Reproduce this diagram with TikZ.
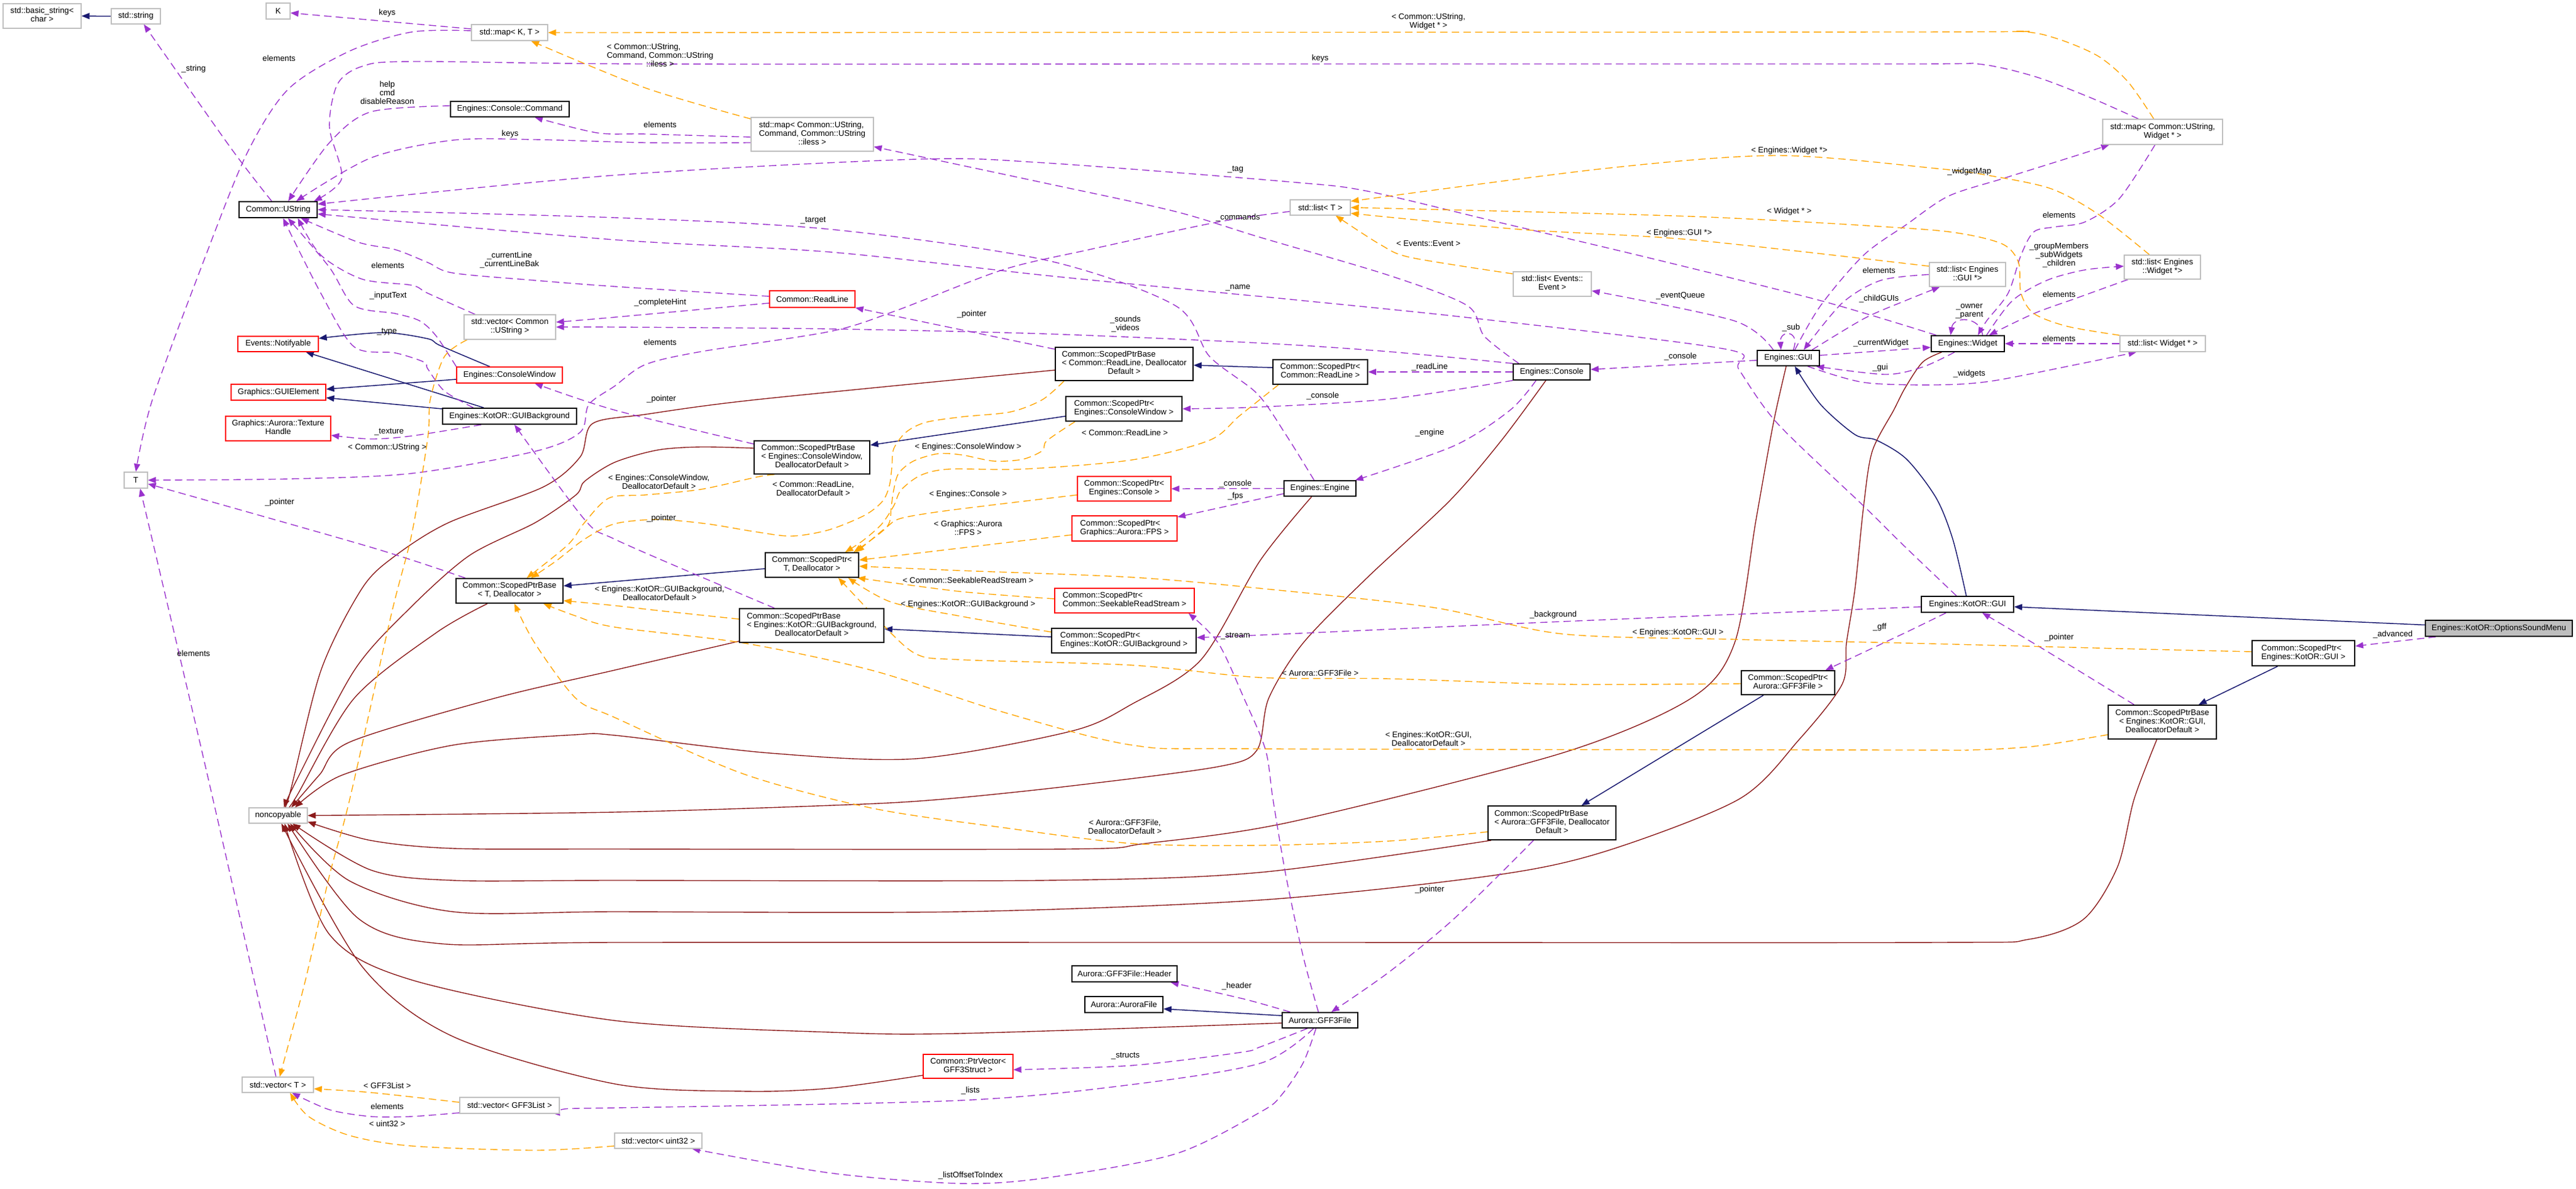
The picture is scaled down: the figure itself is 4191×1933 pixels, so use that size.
\documentclass[tikz,border=0pt]{standalone}
\usepackage{fontspec}
\setmainfont{Liberation Sans}
\usetikzlibrary{arrows.meta}
\pgfdeclarelayer{bg}
\pgfsetlayers{bg,main}
\definecolor{cuse}{HTML}{9A32CD}
\definecolor{ctpl}{HTML}{FFA500}
\definecolor{cpriv}{HTML}{8B1A1A}
\definecolor{cinh}{HTML}{191970}
\definecolor{cgray}{HTML}{BFBFBF}
\newcommand{\dxtwo}[2]{\begin{tabular}{@{}l@{}}#1\\\multicolumn{1}{@{}c@{}}{#2}\end{tabular}}
\newcommand{\dxthree}[3]{\begin{tabular}{@{}l@{}}#1\\\multicolumn{1}{@{}c@{}}{#2}\\\multicolumn{1}{@{}c@{}}{#3}\end{tabular}}
\newcommand{\dxc}[2]{\begin{tabular}{@{}c@{}}#1\\#2\end{tabular}}
\newcommand{\dxcc}[3]{\begin{tabular}{@{}c@{}}#1\\#2\\#3\end{tabular}}
\begin{document}
\begin{tikzpicture}[x=1pt,y=-1pt,
 every node/.style={font=\fontsize{13.2}{14}\selectfont},
 box/.style={rectangle, inner sep=0pt, fill=white, line width=1.3pt},
 bk/.style={box, draw=black, line width=1.7pt},
 gy/.style={box, draw=cgray},
 rd/.style={box, draw=red},
 sz/.style 2 args={minimum width=#1pt, minimum height=#2pt},
 tipa/.style={-{Triangle[length=13pt,width=10pt]}},
 inh/.style={draw=cinh, line width=1.5pt, tipa},
 prv/.style={draw=cpriv, line width=1.4pt, tipa},
 use/.style={draw=cuse, line width=1.4pt, dash pattern=on 12pt off 7pt, tipa},
 tpl/.style={draw=ctpl, line width=1.4pt, dash pattern=on 12pt off 7pt, tipa},
 lb/.style={inner sep=0pt}]
\useasboundingbox (0,0) rectangle (4191,1933);
% ---------------- nodes
\node[gy,sz={127}{40}] (bstr) at (68.5,26) {\dxtwo{std::basic\_string<}{char >}};
\node[gy,sz={80}{25}] (sstr) at (221,26.5) {std::string};
\node[gy,sz={39}{26}] (K) at (452.5,18) {K};
\node[gy,sz={124}{26}] (mapKT) at (829,53) {std::map< K, T >};
\node[bk,sz={193}{25}] (cmd) at (829.5,177.5) {Engines::Console::Command};
\node[bk,sz={127}{26}] (ustr) at (452.5,341) {Common::UString};
\node[gy,sz={149}{40}] (vecustr) at (829.5,532) {\dxtwo{std::vector< Common}{::UString >}};
\node[rd,sz={131}{25}] (notif) at (452.5,559.5) {Events::Notifyable};
\node[rd,sz={172}{26}] (conwin) at (829,610) {Engines::ConsoleWindow};
\node[rd,sz={154}{26}] (guiel) at (453,638) {Graphics::GUIElement};
\node[bk,sz={218}{26}] (guibg) at (829,677) {Engines::KotOR::GUIBackground};
\node[rd,sz={171}{40}] (texh) at (452.5,697) {\dxtwo{Graphics::Aurora::Texture}{Handle}};
\node[gy,sz={38}{26}] (T) at (221,781) {T};
\node[bk,sz={174}{40}] (spbT) at (829,961) {\dxtwo{Common::ScopedPtrBase}{< T, Deallocator >}};
\node[gy,sz={95}{25}] (noncopy) at (452.5,1326.5) {noncopyable};
\node[gy,sz={116}{25}] (vecT) at (452,1764.5) {std::vector< T >};
\node[gy,sz={162}{26}] (vecGL) at (829,1798) {std::vector< GFF3List >};
\node[gy,sz={142}{25}] (vecU32) at (1071,1855.5) {std::vector< uint32 >};
\node[gy,sz={199}{55}] (mapcmd) at (1321.5,218.5) {\dxthree{std::map< Common::UString,}{Command, Common::UString}{::iless >}};
\node[rd,sz={139}{27}] (readline) at (1321.5,486.5) {Common::ReadLine};
\node[bk,sz={224}{54}] (spbRL) at (1829,592) {\dxthree{Common::ScopedPtrBase}{< Common::ReadLine, Deallocator}{Default >}};
\node[bk,sz={189}{40}] (spCW) at (1828.5,665) {\dxtwo{Common::ScopedPtr<}{Engines::ConsoleWindow >}};
\node[bk,sz={188}{54}] (spbCW) at (1321,744) {\dxthree{Common::ScopedPtrBase}{< Engines::ConsoleWindow,}{DeallocatorDefault >}};
\node[rd,sz={152}{40}] (spCon) at (1829,795) {\dxtwo{Common::ScopedPtr<}{Engines::Console >}};
\node[rd,sz={171}{41}] (spFPS) at (1829.5,859.5) {\dxtwo{Common::ScopedPtr<}{Graphics::Aurora::FPS >}};
\node[bk,sz={152}{40}] (spT) at (1321,919) {\dxtwo{Common::ScopedPtr<}{T, Deallocator >}};
\node[rd,sz={227}{40}] (spSRS) at (1829.5,977) {\dxtwo{Common::ScopedPtr<}{Common::SeekableReadStream >}};
\node[bk,sz={235}{55}] (spbBG) at (1320.5,1017.5) {\dxthree{Common::ScopedPtrBase}{< Engines::KotOR::GUIBackground,}{DeallocatorDefault >}};
\node[bk,sz={235}{40}] (spBG) at (1828.5,1042) {\dxtwo{Common::ScopedPtr<}{Engines::KotOR::GUIBackground >}};
\node[gy,sz={98}{25}] (listT) at (2148,337.5) {std::list< T >};
\node[gy,sz={127}{40}] (listEv) at (2525.5,462) {\dxtwo{std::list< Events::}{Event >}};
\node[bk,sz={154}{40}] (spRL) at (2148,605) {\dxtwo{Common::ScopedPtr<}{Common::ReadLine >}};
\node[bk,sz={125}{26}] (console) at (2524.5,605) {Engines::Console};
\node[bk,sz={101}{25}] (gui) at (2909.5,582.5) {Engines::GUI};
\node[gy,sz={195}{41}] (mapW) at (3518.5,214.5) {\dxtwo{std::map< Common::UString,}{Widget * >}};
\node[gy,sz={124}{39}] (listGUI) at (3201,446.5) {\dxtwo{std::list< Engines}{::GUI *>}};
\node[gy,sz={124}{39}] (listEW) at (3518,434.5) {\dxtwo{std::list< Engines}{::Widget *>}};
\node[bk,sz={119}{26}] (widget) at (3201.5,559) {Engines::Widget};
\node[gy,sz={139}{26}] (listW) at (3518.5,559) {std::list< Widget * >};
\node[bk,sz={117}{25}] (engine) at (2147.5,794.5) {Engines::Engine};
\node[bk,sz={150}{26}] (kgui) at (3201,983) {Engines::KotOR::GUI};
\node[bk,sz={152}{39}] (spGFF) at (2909,1110.5) {\dxtwo{Common::ScopedPtr<}{Aurora::GFF3File >}};
\node[box,draw=black,line width=1.7pt,fill=cgray,sz={239}{26}] (osm) at (4065.5,1022) {Engines::KotOR::OptionsSoundMenu};
\node[bk,sz={167}{41}] (spKG) at (3747.5,1062.5) {\dxtwo{Common::ScopedPtr<}{Engines::KotOR::GUI >}};
\node[bk,sz={176}{55}] (spbKG) at (3518,1174.5) {\dxthree{Common::ScopedPtrBase}{< Engines::KotOR::GUI,}{DeallocatorDefault >}};
\node[bk,sz={208}{55}] (spbGFF) at (2525,1338.5) {\dxthree{Common::ScopedPtrBase}{< Aurora::GFF3File, Deallocator}{Default >}};
\node[bk,sz={123}{25}] (gff) at (2147.5,1659.5) {Aurora::GFF3File};
\node[bk,sz={171}{26}] (hdr) at (1829.5,1584) {Aurora::GFF3File::Header};
\node[bk,sz={127}{26}] (aurf) at (1828.5,1634) {Aurora::AuroraFile};
\node[rd,sz={146}{39}] (ptrvec) at (1575,1734.5) {\dxtwo{Common::PtrVector<}{GFF3Struct >}};
% ---------------- edges
\begin{pgfonlayer}{bg}
% inheritance
\draw[inh] (sstr.west) -- (bstr.east);
\draw[inh] plot[smooth] coordinates {([xshift=-32]conwin.north) (716,562) (696,551) (623,541) ([yshift=-4]notif.north east)};
\draw[inh] ([yshift=-7]conwin.west) -- ([yshift=5]guiel.east);
\draw[inh] ([xshift=-42]guibg.north) -- ([xshift=45]notif.south);
\draw[inh] ([yshift=12]guibg.west) -- ([yshift=-9]guiel.east);
\draw[inh] ([yshift=7]spRL.west) -- ([yshift=-2]spbRL.east);
\draw[inh] ([yshift=-12]spCW.west) -- ([yshift=20]spbCW.east);
\draw[inh] ([yshift=-6]spT.west) -- ([yshift=8]spbT.east);
\draw[inh] ([yshift=6]spBG.west) -- ([yshift=-5.5]spbBG.east);
\draw[inh] plot[smooth] coordinates {([xshift=-2]kgui.north) (3177,877) (3150,810) (3102,747) (3053,716) (3018,707) (2962,658) ([xshift=10.5]gui.south)};
\draw[inh] ([yshift=5.5]osm.west) -- ([yshift=-4]kgui.east);
\draw[inh] ([xshift=-42]spKG.south) -- ([xshift=59]spbKG.north);
\draw[inh] ([xshift=-40]spGFF.south) -- ([xshift=48]spbGFF.north);
\draw[inh] ([yshift=7.5]gff.west) -- ([yshift=-7]aurf.east);
% private inheritance
\draw[prv] plot[smooth] coordinates {([yshift=-10]spbRL.west) (1231,650) (1050,674) (964,689) (944,743) (884,792) (730,850) (643,904) (589,957) (522,1091) (469,1300) ([xshift=3.5]noncopy.north)};
\draw[prv] plot[smooth] coordinates {([yshift=15]spbCW.west) (1140,727) (1070,732) (1000,752) (951,783) (937,805) (871,850) (763,904) (663,993) (576,1091) (482,1270) ([xshift=9.5]noncopy.north)};
\draw[prv] plot[smooth] coordinates {([xshift=-36]spbT.south) (710,1029) (576,1136) (482,1296) ([xshift=15.5]noncopy.north)};
\draw[prv] plot[smooth] coordinates {([yshift=-25.5]spbBG.west) (1000,1090) (804,1136) (569,1207) (520,1260) ([xshift=21.5]noncopy.north)};
\draw[prv] plot[smooth] coordinates {([xshift=-13.5]engine.south) (2050,912) (1954,1073) (1842,1145) (1744,1189) (1491,1234) (1253,1225) (1000,1196) (937,1195) (737,1212) (556,1261) ([xshift=27.5]noncopy.north)};
\draw[prv] plot[smooth] coordinates {([xshift=-9.5]console.south) (2443,716) (2359,814) (2225,939) (2120,1046) (2064,1136) (2045,1220) (1982,1247) (1737,1279) (1533,1300) (1379,1309) (1000,1321) (noncopy.east)};
\draw[prv] plot[smooth] coordinates {([xshift=-3.5]gui.south) (2885,689) (2857,845) (2822,1046) (2751,1136) (2541,1225) (2100,1337) (1863,1372) (1737,1381) (1000,1381) (737,1380) (603,1367) ([yshift=3]noncopy.south east)};
\draw[prv] plot[smooth] coordinates {([xshift=-42.5]widget.south) (3128,589) (3100,630) (3081,667) (3046,734) (3032,823) (3018,957) (3004,1046) (2997,1113) (2927,1203) (2829,1300) (2611,1385) (2429,1424) (2050,1464) (1561,1483) (1000,1483) (737,1483) (569,1433) ([xshift=19.5]noncopy.south)};
\draw[prv] plot[smooth] coordinates {([xshift=6]spbGFF.south west) (2050,1419) (1701,1432) (1000,1432) (737,1432) (603,1415) ([xshift=23.5]noncopy.south)};
\draw[prv] plot[smooth] coordinates {([xshift=-9]spbKG.south) (3472,1300) (3445,1410) (3390,1495) (3300,1528) (3150,1533) (2100,1533) (1000,1533) (717,1535) (583,1494) ([xshift=15.5]noncopy.south)};
\draw[prv] plot[smooth] coordinates {([yshift=-4.5]gff.west) (1561,1681) (1351,1679) (1000,1660) (670,1594) (536,1520) ([xshift=10.5]noncopy.south)};
\draw[prv] plot[smooth] coordinates {([yshift=-14.5]ptrvec.west) (1351,1770) (1210,1775) (1000,1763) (737,1686) (589,1572) ([xshift=5.5]noncopy.south)};
% usage
\draw[use] plot[smooth] coordinates {([xshift=-10.5]ustr.north) (375,240) ([xshift=13]sstr.south)};
\draw[use] ([yshift=6]mapKT.west) -- ([yshift=-3]K.east);
\draw[use] plot[smooth] coordinates {([yshift=3]mapKT.west) (670,52) (569,83) (469,145) (402,249) (335,415) (248,650) (T.north)};
\draw[use] plot[smooth] coordinates {([xshift=-39.5]mapW.north) (3399,158) (3309,124) (3218,104) (3100,104) (2050,104) (1050,104) (670,100) (589,108) (549,137) (536,207) (556,290) ([xshift=-6]ustr.north east)};
\draw[use] plot[smooth] coordinates {([yshift=5.5]cmd.west) (603,182) (536,232) ([xshift=16.5]ustr.north)};
\draw[use] plot[smooth] coordinates {([yshift=-13.5]mapcmd.west) (1050,232) (870,227) (737,228) (603,257) ([xshift=29.5]ustr.north)};
\draw[use] plot[smooth] coordinates {([yshift=-4.5]mapcmd.west) (1050,218) (971,216) ([xshift=40.5]cmd.south)};
\draw[use] plot[smooth] coordinates {([xshift=-56.5]vecustr.north) (696,477) (670,464) (589,454) (522,415) ([xshift=32]ustr.south)};
\draw[use] plot[smooth] coordinates {([yshift=4.5]readline.west) (1000,466) (870,456) (737,444) (696,427) (643,406) (583,394) ([xshift=37]ustr.south)};
\draw[use] plot[smooth] coordinates {([yshift=-6.5]readline.west) (1000,516) ([yshift=8]vecustr.east)};
\draw[use] plot[smooth] coordinates {(console.north west) (2260,572) (2050,558) (1701,543) (1351,535) (1000,532) (vecustr.east)};
\draw[use] plot[smooth] coordinates {(conwin.north west) (710,547) (683,522) (643,510) (576,497) (536,435) ([xshift=16]ustr.south)};
\draw[use] plot[smooth] coordinates {([xshift=-59]guibg.north) (723,636) (696,600) (690,589) (643,574) (576,564) (522,477) ([xshift=8]ustr.south)};
\draw[use] plot[smooth] coordinates {([xshift=-51.5]widget.north) (2962,489) (2681,419) (2436,361) (2225,311) (2100,296) (1701,265) (1491,259) (1000,285) ([yshift=9]ustr.east)};
\draw[use] plot[smooth] coordinates {([xshift=-9.5]engine.north) (2092,707) (2045,640) (1968,580) (1912,497) (1701,423) (1351,373) (1000,354) (ustr.east)};
\draw[use] plot[smooth] coordinates {([xshift=-18]kgui.north) (3100,890) (3032,823) (2892,689) (2829,601) (2808,568) (2401,518) (2100,487) (1996,477) (1701,448) (1351,410) (1000,390) ([yshift=-7]ustr.east)};
\draw[use] plot[smooth] coordinates {([xshift=-53.5]console.north) (2415,547) (2387,497) (2260,448) (2050,386) (1912,344) (1701,298) ([yshift=8]mapcmd.south east)};
\draw[use] plot[smooth] coordinates {([yshift=-6.5]listT.west) (1982,361) (1772,406) (1631,439) (1456,506) (1351,539) (1140,572) (1050,593) (1000,628) (958,658) (944,703) (871,734) (670,770) (469,779) (T.east)};
\draw[use] plot[smooth] coordinates {([xshift=-72]spbT.north) (603,890) ([yshift=-6]T.east)};
\draw[use] plot[smooth] coordinates {([xshift=-3]vecT.north) (335,1250) ([xshift=7]T.south)};
\draw[use] ([yshift=24]spbRL.west) -- (readline.south east);
\draw[use] plot[smooth] coordinates {([yshift=-6]spbCW.north west) (1000,667) ([xshift=41]conwin.south)};
\draw[use] plot[smooth] coordinates {([xshift=-60.5]spbBG.north) (1175,953) (1000,877) (951,845) ([xshift=8]guibg.south)};
\draw[use] (console.west) -- (spRL.east);
\draw[use] plot[smooth] coordinates {(console.south west) (2260,649) (2050,662) (spCW.east)};
\draw[use] plot[smooth] coordinates {([xshift=-25.5]console.south) (2457,667) (2366,725) ([xshift=-2]engine.north east)};
\draw[use] (engine.west) -- (spCon.east);
\draw[use] ([yshift=-8.5]engine.west) -- ([yshift=18.5]spFPS.east);
\draw[use] ([yshift=-3.5]gui.west) -- ([yshift=4]console.east);
\draw[use] plot[smooth] coordinates {([xshift=-24.5]gui.north) (2822,522) ([yshift=-11]listEv.east)};
\draw[use] ([xshift=8]gui.north) .. controls (2930,536) and (2895,536) .. ([xshift=-12]gui.north);
\draw[use] plot[smooth] coordinates {(listGUI.west) (3060,456) (2997,493) ([xshift=25]gui.north)};
\draw[use] plot[smooth] coordinates {([xshift=38.5]gui.north) (3033,518) (3100,489) ([xshift=-45]listGUI.south)};
\draw[use] ([yshift=4.5]gui.east) -- ([yshift=-6]widget.west);
\draw[use] plot[smooth] coordinates {([xshift=-21.5]widget.south) (3128,597) (3067,609) ([xshift=45]gui.south)};
\draw[use] plot[smooth] coordinates {([xshift=31.5]gui.south) (3032,622) (3150,626) (3239,620) (3378,593) ([xshift=-42.5]listW.south)};
\draw[use] plot[smooth] coordinates {([xshift=10.5]gui.north) (2962,497) (3032,415) (3102,365) (3170,319) (3260,290) (3378,253) ([xshift=-87]mapW.south)};
\draw[use] plot[smooth] coordinates {([xshift=-12.5]mapW.south) (3448,323) (3392,361) (3344,369) (3309,377) (3288,415) (3267,477) (3232,522) ([xshift=16.5]widget.north)};
\draw[use] plot[smooth] coordinates {([xshift=30.5]widget.north) (3274,489) (3330,456) (3392,439) ([yshift=1.5]listEW.west)};
\draw[use] plot[smooth] coordinates {([xshift=-56]listEW.south) (3378,485) (3309,510) ([xshift=34.5]widget.north)};
\draw[use] ([xshift=24]widget.north) .. controls (3222,514) and (3178,514) .. ([xshift=-28]widget.north);
\draw[use] (listW.west) -- (widget.east);
\draw[use] plot[smooth] coordinates {([yshift=-4]kgui.west) (2541,1011) (2050,1033) ([yshift=5]spBG.east)};
\draw[use] plot[smooth] coordinates {([xshift=-35]kgui.south) (3100,1029) ([xshift=-16]spGFF.north east)};
\draw[use] plot[smooth] coordinates {([xshift=-46]spbKG.north) (3323,1055) ([xshift=24]kgui.south)};
\draw[use] ([xshift=-102.5]osm.south) -- ([yshift=11.5]spKG.east);
\draw[use] plot[smooth] coordinates {([xshift=-30]spbGFF.south) (2366,1494) (2260,1581) ([xshift=18.5]gff.north)};
\draw[use] plot[smooth] coordinates {([xshift=-2.5]gff.north) (2120,1555) (2092,1424) (2071,1300) (2059,1220) (2024,1136) (1982,1046) ([xshift=-10]spSRS.south east)};
\draw[use] plot[smooth] coordinates {([xshift=14]gff.north west) (2024,1625) ([xshift=75]hdr.south)};
\draw[use] plot[smooth] coordinates {([xshift=-20.5]gff.south) (2050,1703) (2017,1712) (1842,1733) ([yshift=-5.5]ptrvec.east)};
\draw[use] plot[smooth] coordinates {([xshift=-10.5]gff.south) (2052,1729) (1842,1764) (1561,1790) (1000,1802) ([yshift=-3]vecGL.east)};
\draw[use] plot[smooth] coordinates {([xshift=-6.5]gff.south) (2120,1729) (2085,1781) (2052,1808) (1912,1877) (1701,1916) (1561,1925) (1351,1908) ([xshift=55]vecU32.south)};
\draw[use] plot[smooth] coordinates {([xshift=-46]guibg.south) (670,709) (603,714) ([yshift=-11]texh.east)};
\draw[use] plot[smooth] coordinates {([yshift=-12]vecGL.west) (670,1816) (603,1816) (536,1805) ([xshift=23]vecT.south)};
% template instances
\draw[tpl] plot[smooth] coordinates {([yshift=-3]mapcmd.north west) (1050,143) ([xshift=35]mapKT.south)};
\draw[tpl] plot[smooth] coordinates {([xshift=-14.5]mapW.north) (3462,133) (3413,91) (3344,62) (3281,51) (3100,52) (mapKT.east)};
\draw[tpl] plot[smooth] coordinates {([xshift=-69.5]vecustr.south) (723,580) (700,650) (696,712) (670,868) (636,1002) (569,1300) (536,1424) (496,1598) ([xshift=3]vecT.north)};
\draw[tpl] plot[smooth] coordinates {([yshift=5]vecGL.west) (603,1777) ([yshift=-6.5]vecT.east)};
\draw[tpl] plot[smooth] coordinates {([yshift=-8.5]vecU32.west) (871,1871) (670,1864) (569,1847) (502,1816) ([xshift=20]vecT.south)};
\draw[tpl] plot[smooth] coordinates {([yshift=-4]listEv.north west) (2296,419) (2246,398) ([xshift=25]listT.south)};
\draw[tpl] plot[smooth] coordinates {([yshift=13.5]listGUI.west) (2751,390) (2471,373) ([yshift=-9.5]listT.east)};
\draw[tpl] plot[smooth] coordinates {(listW.north west) (3364,531) (3309,510) (3288,477) (3284,427) (3260,398) (3197,381) (3100,371) (2751,352) (listT.east)};
\draw[tpl] plot[smooth] coordinates {([xshift=-21]listEW.north) (3413,348) (3337,307) (3239,286) (3150,274) (2892,253) (2611,274) ([yshift=-3]listT.north east)};
\draw[tpl] plot[smooth] coordinates {([xshift=-98]spbRL.south) (1696,650) (1644,670) (1565,678) (1506,687) (1474,703) (1454,730) (1451,760) (1447,790) (1436,815) (1407,838) (1348,862) (1288,872) (1229,865) (1150,852) (1070,845) (1000,852) (951,877) (904,913) ([xshift=35]spbT.north)};
\draw[tpl] plot[smooth] coordinates {([xshift=-61]spbCW.south) (1231,776) (1140,796) (1050,805) (991,810) (951,850) (924,886) ([xshift=28]spbT.north)};
\draw[tpl] plot[smooth] coordinates {([yshift=10.5]spbBG.west) (1070,993) (1000,985) ([yshift=-16]spbT.east)};
\draw[tpl] plot[smooth] coordinates {([yshift=-20.5]spbKG.west) (3309,1214) (3204,1220) (3100,1220) (2050,1218) (1842,1212) (1631,1158) (1421,1091) (1210,1046) (1000,1020) (937,1002) ([xshift=55]spbT.south)};
\draw[tpl] plot[smooth] coordinates {([yshift=-14.5]spbGFF.west) (2260,1368) (2050,1375) (1842,1372) (1631,1346) (1421,1315) (1210,1259) (1000,1167) (937,1136) (870,1046) ([xshift=8]spbT.south)};
\draw[tpl] plot[smooth] coordinates {([xshift=-68]spRL.south) (2017,676) (1968,716) (1842,748) (1664,763) (1545,763) (1498,773) (1466,797) (1454,823) (1434,853) (1403,880) ([xshift=54]spT.north)};
\draw[tpl] plot[smooth] coordinates {([xshift=-79.5]spCW.south) (1703,717) (1696,733) (1664,747) (1617,750) (1565,740) (1526,738) (1486,750) (1462,770) (1454,797) (1450,823) (1443,857) ([xshift=68]spT.north)};
\draw[tpl] plot[smooth] coordinates {([yshift=-10]spCon.west) (1545,830) (1466,843) (1443,857) (1415,880) ([xshift=72]spT.north)};
\draw[tpl] ([yshift=-10.5]spFPS.west) -- ([yshift=8]spT.east);
\draw[tpl] plot[smooth] coordinates {([yshift=2.5]spKG.west) (3448,1055) (3100,1046) (2822,1040) (2541,1031) (2331,988) (2050,957) (1842,939) (1561,928) ([yshift=-2]spT.east)};
\draw[tpl] plot[smooth] coordinates {([yshift=3]spSRS.west) (1561,962) ([xshift=-3]spT.south east)};
\draw[tpl] plot[smooth] coordinates {([yshift=14]spBG.west) (1561,1002) (1449,979) ([xshift=-18]spT.south east)};
\draw[tpl] plot[smooth] coordinates {([yshift=-1.5]spGFF.west) (2541,1113) (2260,1104) (2050,1102) (1842,1082) (1561,1073) (1491,1064) (1435,1015) ([xshift=-34]spT.south east)};
\end{pgfonlayer}
% ---------------- labels
\node[lb] at (315,112) {\_string};
\node[lb] at (630,21) {keys};
\node[lb] at (454,95) {elements};
\node[lb] at (2148,95) {keys};
\node[lb] at (630,153) {\dxcc{help}{cmd}{disableReason}};
\node[lb] at (830,218.5) {keys};
\node[lb] at (1074,203) {elements};
\node[lb] at (1074,92) {\dxthree{< Common::UString,}{Command, Common::UString}{::iless >}};
\node[lb] at (2324,36) {\dxc{< Common::UString,}{Widget * >}};
\node[lb] at (631,432) {elements};
\node[lb] at (829,424) {\dxc{\_currentLine}{\_currentLineBak}};
\node[lb] at (1074,492.5) {\_completeHint};
\node[lb] at (1831,528) {\dxc{\_sounds}{\_videos}};
\node[lb] at (631.5,481) {\_inputText};
\node[lb] at (629.5,540) {\_type};
\node[lb] at (2010,276) {\_tag};
\node[lb] at (1323,359) {\_target};
\node[lb] at (2014,468) {\_name};
\node[lb] at (2014,354) {\_commands};
\node[lb] at (1074,557) {elements};
\node[lb] at (455,817) {\_pointer};
\node[lb] at (315,1063) {elements};
\node[lb] at (1581,511) {\_pointer};
\node[lb] at (1076,649) {\_pointer};
\node[lb] at (1076,843) {\_pointer};
\node[lb] at (2326,597) {\_readLine};
\node[lb] at (2152,644) {\_console};
\node[lb] at (2326,704) {\_engine};
\node[lb] at (2010,787) {\_console};
\node[lb] at (2010,807) {\_fps};
\node[lb] at (2734,580) {\_console};
\node[lb] at (2734,481) {\_eventQueue};
\node[lb] at (2914,533) {\_sub};
\node[lb] at (3057,440) {elements};
\node[lb] at (3057,486) {\_childGUIs};
\node[lb] at (3060,558) {\_currentWidget};
\node[lb] at (3059,598) {\_gui};
\node[lb] at (3204,608) {\_widgets};
\node[lb] at (3204,279) {\_widgetMap};
\node[lb] at (3350,350) {elements};
\node[lb] at (3350,416) {\dxcc{\_groupMembers}{\_subWidgets}{\_children}};
\node[lb] at (3350,479) {elements};
\node[lb] at (3204,506) {\dxc{\_owner}{\_parent}};
\node[lb] at (3350,551) {elements};
\node[lb] at (2527,1000) {\_background};
\node[lb] at (3058,1020) {\_gff};
\node[lb] at (3350,1037) {\_pointer};
\node[lb] at (3893,1032) {\_advanced};
\node[lb] at (2326,1447) {\_pointer};
\node[lb] at (2010,1035) {\_stream};
\node[lb] at (2012,1604) {\_header};
\node[lb] at (1831,1718) {\_structs};
\node[lb] at (1579,1774) {\_lists};
\node[lb] at (1579,1912) {\_listOffsetToIndex};
\node[lb] at (633,703) {\_texture};
\node[lb] at (630,1800) {elements};
\node[lb] at (630,728) {< Common::UString >};
\node[lb] at (630,1766) {< GFF3List >};
\node[lb] at (630,1828) {< uint32 >};
\node[lb] at (2324,396) {< Events::Event >};
\node[lb] at (2732,379) {< Engines::GUI *>};
\node[lb] at (2911,344) {< Widget * >};
\node[lb] at (2911,245) {< Engines::Widget *>};
\node[lb] at (1323,797) {\dxc{< Common::ReadLine,}{DeallocatorDefault >}};
\node[lb] at (1072,786) {\dxc{< Engines::ConsoleWindow,}{DeallocatorDefault >}};
\node[lb] at (1073,967) {\dxc{< Engines::KotOR::GUIBackground,}{DeallocatorDefault >}};
\node[lb] at (2324,1204) {\dxc{< Engines::KotOR::GUI,}{DeallocatorDefault >}};
\node[lb] at (1830,1347) {\dxc{< Aurora::GFF3File,}{DeallocatorDefault >}};
\node[lb] at (1830,704) {< Common::ReadLine >};
\node[lb] at (1575,727) {< Engines::ConsoleWindow >};
\node[lb] at (1575,804.5) {< Engines::Console >};
\node[lb] at (1575,861) {\dxc{< Graphics::Aurora}{::FPS >}};
\node[lb] at (2730,1029) {< Engines::KotOR::GUI >};
\node[lb] at (1575,944) {< Common::SeekableReadStream >};
\node[lb] at (1575,983) {< Engines::KotOR::GUIBackground >};
\node[lb] at (2148,1095) {< Aurora::GFF3File >};
\end{tikzpicture}
\end{document}
